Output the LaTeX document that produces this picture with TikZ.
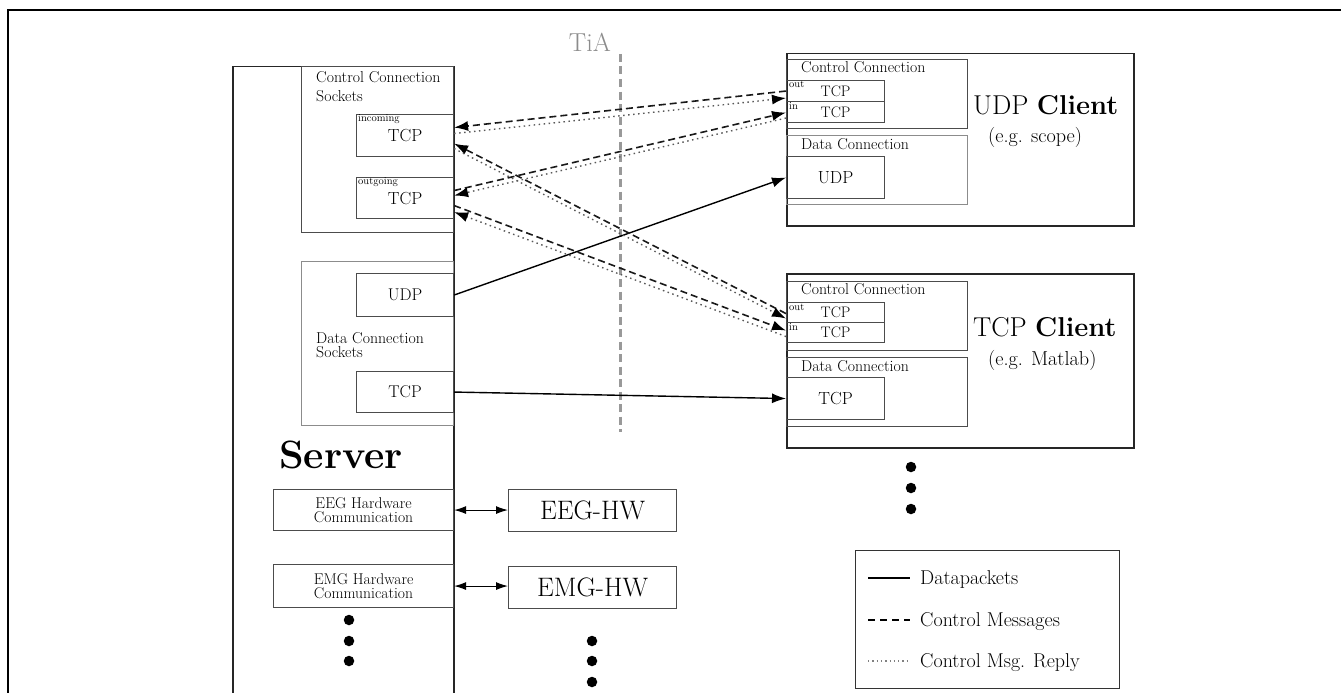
\documentclass[tikz,border=0pt]{standalone}
\usetikzlibrary{arrows.meta,calc}
\newcommand{\pxsize}[2]{\fontsize{#1}{#2}\selectfont}
\begin{document}
\begin{tikzpicture}[x=1pt,y=-1pt,
  outerbox/.style={draw=black!85, line width=1.5pt, inner sep=0pt, anchor=north west},
  box/.style={draw=black!70, line width=1.1pt, inner sep=0pt, anchor=north west},
  lightbox/.style={draw=black!45, line width=1.1pt, inner sep=0pt, anchor=north west},
  lbl/.style={inner sep=0pt, anchor=base west},
  tag/.style={inner sep=0pt, anchor=base west, font=\pxsize{10.5}{10}},
  tip/.style={-{Latex[length=14pt,width=10pt,black]}},
  data/.style={tip, line width=1.4pt, black},
  ctrl/.style={tip, line width=1.6pt, black!90, dash pattern=on 7pt off 4pt},
  reply/.style={tip, line width=1.4pt, black!65, dash pattern=on 1.5pt off 3.5pt},
  hw/.style={{Latex[length=12pt,width=8pt]}-{Latex[length=12pt,width=8pt]}, line width=1.1pt, black},
  dot/.style={circle, fill=black, inner sep=0pt, minimum size=10.5pt}
]
\useasboundingbox (0,0) rectangle (1341,693);

% frame
\draw[line width=1.3pt] (8,720) -- (8,10) -- (1360,10);

% ---------------- server ----------------
\node[outerbox, minimum width=221pt, minimum height=700pt] (server) at (232,66) {};
\node[box, minimum width=152pt, minimum height=166pt] (ccs) at (301,66) {};
\node[lbl, anchor=north west, align=left, font=\pxsize{15.8}{19}] (ccstext) at (316,71) {Control Connection\\Sockets};
\node[box, minimum width=97pt, minimum height=42pt, font=\pxsize{17.5}{18}] (sin) at (356,114) {\raisebox{-3pt}{TCP}};
\node[tag] (sintag) at (358,121) {incoming};
\node[box, minimum width=97pt, minimum height=41pt, font=\pxsize{17.5}{18}] (sout) at (356,177) {\raisebox{-3pt}{TCP}};
\node[tag] (souttag) at (358,184) {outgoing};

\node[lightbox, minimum width=152pt, minimum height=164pt] (dcs) at (301,261) {};
\node[box, minimum width=97pt, minimum height=43pt, font=\pxsize{17}{18}] (sudp) at (356,273) {UDP};
\node[box, minimum width=97pt, minimum height=41pt, font=\pxsize{17}{18}] (stcp) at (356,371) {TCP};
\node[lbl, anchor=north west, align=left, font=\pxsize{15.8}{14}] (dcstext) at (316,332) {Data Connection\\Sockets};

\node[lbl, font=\pxsize{39.5}{40}\bfseries] (servertext) at (279,468) {Server};

\node[box, minimum width=180pt, minimum height=41pt, align=center, font=\pxsize{15.6}{14}] (eegc) at (273,489) {EEG Hardware\\Communication};
\node[box, minimum width=180pt, minimum height=43pt, align=center, font=\pxsize{15.6}{14}] (emgc) at (273,564) {EMG Hardware\\Communication};

\node[box, minimum width=168pt, minimum height=42pt, font=\pxsize{26.7}{27}] (eeghw) at (508,489) {EEG-HW};
\node[box, minimum width=168pt, minimum height=42pt, font=\pxsize{26.7}{27}] (emghw) at (508,566) {EMG-HW};

\draw[hw] (eegc.east) -- (eegc.east -| eeghw.west);
\draw[hw] (emgc.east) -- (emgc.east -| emghw.west);

\node[dot] (sd1) at (349,620) {};
\node[dot] (sd2) at (349,641) {};
\node[dot] (sd3) at (349,661) {};
\node[dot] (hd1) at (592,641) {};
\node[dot] (hd2) at (592,661) {};
\node[dot] (hd3) at (592,682) {};

% ---------------- TiA border ----------------
\coordinate (tiatop) at (620,54);
\coordinate (tiabot) at (620,432);
\draw[black!40, line width=3pt, dash pattern=on 8pt off 4.5pt] (tiatop) -- (tiabot);
\node[inner sep=0pt, anchor=base east, text=black!45, font=\pxsize{26}{26}] (tia) at (611,52) {TiA};

% ---------------- UDP client ----------------
\node[outerbox, minimum width=347pt, minimum height=172pt] (uc) at (786,53) {};
\node[box, minimum width=181pt, minimum height=69pt] (ucc) at (786,59) {};
\node[lbl, font=\pxsize{15.8}{16}] (ucctext) at (801,73) {Control Connection};
\node[box, minimum width=98pt, minimum height=21pt, font=\pxsize{15.2}{16}] (uout) at (786,80) {TCP};
\node[tag] (uouttag) at (789,88) {out};
\node[box, minimum width=98pt, minimum height=21pt, font=\pxsize{15.2}{16}] (uin) at (786,101) {TCP};
\node[tag] (uintag) at (789,109) {in};
\node[lightbox, minimum width=181pt, minimum height=69pt] (udc) at (786,135) {};
\node[lbl, font=\pxsize{15.8}{16}] (udctext) at (801,149) {Data Connection};
\node[box, minimum width=98pt, minimum height=42pt, font=\pxsize{17.5}{18}] (uudp) at (786,156) {UDP};
\node[lbl, font=\pxsize{27.3}{28}] (uctext) at (973,114) {UDP \textbf{Client}};
\node[lbl, font=\pxsize{20.2}{21}] (ucsub) at (988,142) {(e.g. scope)};

% ---------------- TCP client ----------------
\node[outerbox, minimum width=347pt, minimum height=174pt] (tc) at (786,273) {};
\node[box, minimum width=181pt, minimum height=69pt] (tcc) at (786,281) {};
\node[lbl, font=\pxsize{15.8}{16}] (tcctext) at (801,294) {Control Connection};
\node[box, minimum width=98pt, minimum height=20pt, font=\pxsize{15.2}{16}] (tout) at (786,302) {TCP};
\node[tag] (touttag) at (789,310) {out};
\node[box, minimum width=98pt, minimum height=20pt, font=\pxsize{15.2}{16}] (tin) at (786,322) {TCP};
\node[tag] (tintag) at (789,330) {in};
\node[box, minimum width=181pt, minimum height=69pt] (tdc) at (786,357) {};
\node[lbl, font=\pxsize{15.8}{16}] (tdctext) at (801,371) {Data Connection};
\node[box, minimum width=98pt, minimum height=42pt, font=\pxsize{17.5}{18}] (ttcp) at (786,377) {TCP};
\node[lbl, font=\pxsize{27.3}{28}] (tctext) at (973,336) {TCP \textbf{Client}};
\node[lbl, font=\pxsize{20.2}{21}] (tcsub) at (988,365) {(e.g. Matlab)};

\node[dot] (cd1) at (911,467) {};
\node[dot] (cd2) at (911,488) {};
\node[dot] (cd3) at (911,509) {};

% ---------------- connections ----------------
% data
\draw[data] (sudp.east) -- (uudp.west);
\draw[data] (stcp.east) -- (ttcp.west);
% server incoming <-> UDP client out
\draw[ctrl]  (uout.west) -- ($(sin.east)+(0,-8)$);
\draw[reply] ($(sin.east)+(0,-2)$) -- ($(uout.west)+(0,7)$);
% server outgoing <-> UDP client in
\draw[ctrl]  ($(sout.east)+(0,-7.5)$) -- ($(uin.west)+(0,0.5)$);
\draw[reply] ($(uin.west)+(0,6)$) -- ($(sout.east)+(0,-2.5)$);
% server incoming <-> TCP client out
\draw[ctrl]  ($(tout.west)+(0,1)$) -- ($(sin.east)+(0,8)$);
\draw[reply] ($(sin.east)+(0,13)$) -- ($(tout.west)+(0,6)$);
% server outgoing <-> TCP client in
\draw[ctrl]  ($(sout.east)+(0,7.5)$) -- ($(tin.west)+(0,-2)$);
\draw[reply] ($(tin.west)+(0,4)$) -- ($(sout.east)+(0,14)$);

% ---------------- legend ----------------
\node[box, draw=black!80, minimum width=264pt, minimum height=138pt] (legend) at (855,550) {};
\coordinate (l1a) at (868,578); \coordinate (l1b) at (910,578);
\coordinate (l2a) at (868,620); \coordinate (l2b) at (910,620);
\coordinate (l3a) at (868,661); \coordinate (l3b) at (910,661);
\draw[line width=1.3pt] (l1a) -- (l1b);
\draw[line width=1.3pt, dash pattern=on 7pt off 5pt] (l2a) -- (l2b);
\draw[line width=1.2pt, black!50, dash pattern=on 1.3pt off 3pt] (l3a) -- (l3b);
\node[lbl, font=\pxsize{20}{20}] (lt1) at (920,584) {Datapackets};
\node[lbl, font=\pxsize{20}{20}] (lt2) at (920,626) {Control Messages};
\node[lbl, font=\pxsize{20}{20}] (lt3) at (920,667) {Control Msg. Reply};
\end{tikzpicture}
\end{document}
